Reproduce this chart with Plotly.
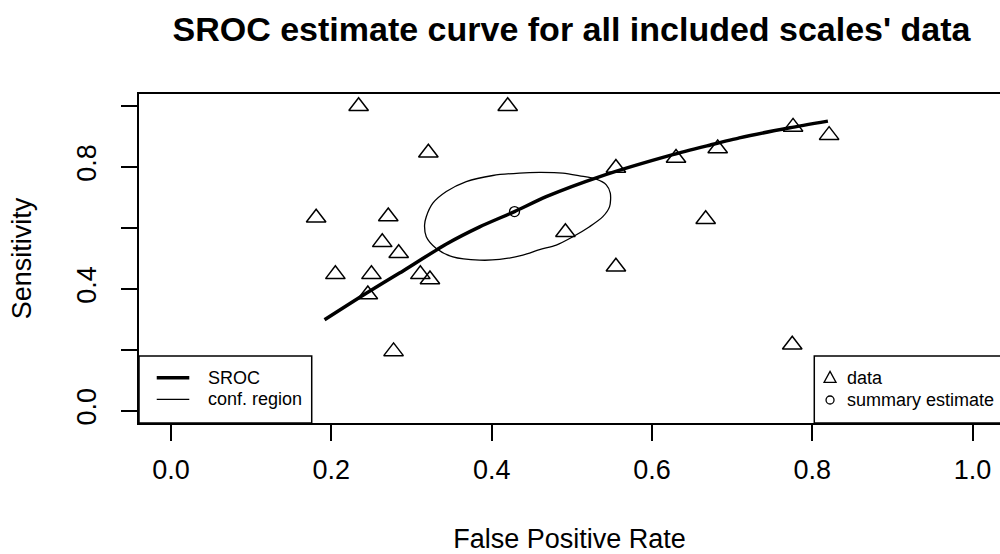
import plotly.graph_objects as go

# ---- data ----
fpr = [0.234, 0.420, 0.321, 0.181, 0.271, 0.2635, 0.284, 0.205, 0.250, 0.311, 0.323,
       0.2455, 0.2776, 0.555, 0.630, 0.682, 0.492, 0.555, 0.667, 0.776, 0.821, 0.775]
sens = [1.0, 1.0, 0.847, 0.634, 0.638, 0.553, 0.517, 0.448, 0.448, 0.448, 0.431,
        0.382, 0.195, 0.797, 0.830, 0.861, 0.586, 0.473, 0.629, 0.932, 0.905, 0.217]

summary_fpr = [0.4285]
summary_sens = [0.654]

sroc_fpr = [0.1915, 0.2435, 0.285, 0.343, 0.385, 0.4285, 0.468, 0.535, 0.626, 0.672, 0.709, 0.772, 0.8195]
sroc_sens = [0.299, 0.386, 0.452, 0.547, 0.604, 0.654, 0.703, 0.769, 0.841, 0.872, 0.896, 0.929, 0.951]

conf_fpr = [0.3163, 0.3184, 0.3266, 0.3434, 0.3683, 0.4015, 0.4348, 0.4598, 0.4888, 0.5097,
            0.5305, 0.5430, 0.5480, 0.5471, 0.5387, 0.5221, 0.5013, 0.4806, 0.4598, 0.4389,
            0.4099, 0.3849, 0.3516, 0.3309, 0.3184, 0.3163]
conf_sens = [0.610, 0.637, 0.6815, 0.7198, 0.7527, 0.7725, 0.7804, 0.7824, 0.7804, 0.7715,
             0.7606, 0.7418, 0.7145, 0.6703, 0.6373, 0.6044, 0.5714, 0.5440, 0.5292, 0.5110,
             0.4969, 0.4946, 0.5054, 0.5331, 0.5714, 0.610]

tick_vals = [0.0, 0.2, 0.4, 0.6, 0.8, 1.0]
x_tick_text = ["0.0", "0.2", "0.4", "0.6", "0.8", "1.0"]
y_tick_text = ["0.0", "", "0.4", "", "0.8", ""]

FONT = "Liberation Sans, Arial, sans-serif"

fig = go.Figure()
fig.add_trace(go.Scatter(x=conf_fpr, y=conf_sens, mode="lines", name="conf. region",
                         line=dict(color="black", width=1.3, shape="spline", smoothing=0.8)))
fig.add_trace(go.Scatter(x=sroc_fpr, y=sroc_sens, mode="lines", name="SROC",
                         line=dict(color="black", width=3.5, shape="spline", smoothing=0.6)))
fig.add_trace(go.Scatter(x=fpr, y=sens, mode="markers", name="data",
                         marker=dict(symbol="triangle-up-open", size=17, color="black",
                                     line=dict(width=1.5, color="black"))))
fig.add_trace(go.Scatter(x=summary_fpr, y=summary_sens, mode="markers", name="summary estimate",
                         marker=dict(symbol="circle-open", size=10, color="black",
                                     line=dict(width=1.3, color="black"))))

# ---- R-style legend boxes (paper coordinates) ----
shapes = [
    dict(type="rect", xref="paper", yref="paper", x0=0, x1=0.2006, y0=0, y1=0.2036,
         line=dict(color="black", width=1.5), fillcolor="white", layer="above"),
    dict(type="line", xref="paper", yref="paper", x0=0.0206, x1=0.0584, y0=0.1377, y1=0.1377,
         line=dict(color="black", width=3.5), layer="above"),
    dict(type="line", xref="paper", yref="paper", x0=0.0206, x1=0.0584, y0=0.072, y1=0.072,
         line=dict(color="black", width=1.2), layer="above"),
    dict(type="rect", xref="paper", yref="paper", x0=0.7843, x1=1.0058, y0=0, y1=0.2036,
         line=dict(color="black", width=1.5), fillcolor="white", layer="above"),
    dict(type="path", xref="paper", yref="paper", xsizemode="pixel", ysizemode="pixel",
         xanchor=0.8026, yanchor=0.1358, path="M-6,-4 L6,-4 L0,7 Z",
         line=dict(color="black", width=1.3), layer="above"),
    dict(type="circle", xref="paper", yref="paper", xsizemode="pixel", ysizemode="pixel",
         xanchor=0.8026, yanchor=0.0699, x0=-4, x1=4, y0=-4, y1=4,
         line=dict(color="black", width=1.3), layer="above"),
]
annotations = [
    dict(text="SROC", xref="paper", yref="paper", x=0.0778, y=0.1377, xanchor="left",
         yanchor="middle", showarrow=False, font=dict(size=18, color="black", family=FONT)),
    dict(text="conf. region", xref="paper", yref="paper", x=0.0778, y=0.072, xanchor="left",
         yanchor="middle", showarrow=False, font=dict(size=18, color="black", family=FONT)),
    dict(text="data", xref="paper", yref="paper", x=0.8200, y=0.1358, xanchor="left",
         yanchor="middle", showarrow=False, font=dict(size=18, color="black", family=FONT)),
    dict(text="summary estimate", xref="paper", yref="paper", x=0.8200, y=0.0699, xanchor="left",
         yanchor="middle", showarrow=False, font=dict(size=18, color="black", family=FONT)),
]

fig.update_layout(
    width=1000, height=554,
    margin=dict(l=139, r=0, t=94, b=131),
    paper_bgcolor="white", plot_bgcolor="white",
    showlegend=False,
    font=dict(family=FONT, color="black", size=27),
    title=dict(text="<b>SROC estimate curve for all included scales' data</b>",
               x=0.5715, xref="container", xanchor="center",
               y=1 - 29 / 554, yref="container", yanchor="middle",
               font=dict(size=34, family=FONT, color="black")),
    xaxis=dict(range=[-0.04, 1.0342], tickvals=tick_vals, ticktext=x_tick_text,
               showgrid=False, zeroline=False, showline=True, mirror=True,
               linecolor="black", linewidth=1.5, ticks="outside", ticklen=16,
               tickwidth=1.5, tickcolor="black", tickfont=dict(size=27),
               ticklabelstandoff=6,
               title=dict(text="False Positive Rate", font=dict(size=27), standoff=48)),
    yaxis=dict(range=[-0.04, 1.04], tickvals=tick_vals, ticktext=y_tick_text,
               showgrid=False, zeroline=False, showline=True, mirror=False,
               linecolor="black", linewidth=1.5, ticks="outside", ticklen=16,
               tickwidth=1.5, tickcolor="black", tickangle=-90, tickfont=dict(size=27),
               ticklabelstandoff=14,
               title=dict(text="Sensitivity", font=dict(size=27), standoff=33)),
    shapes=shapes,
    annotations=annotations,
)

fig.write_html("out.html")
